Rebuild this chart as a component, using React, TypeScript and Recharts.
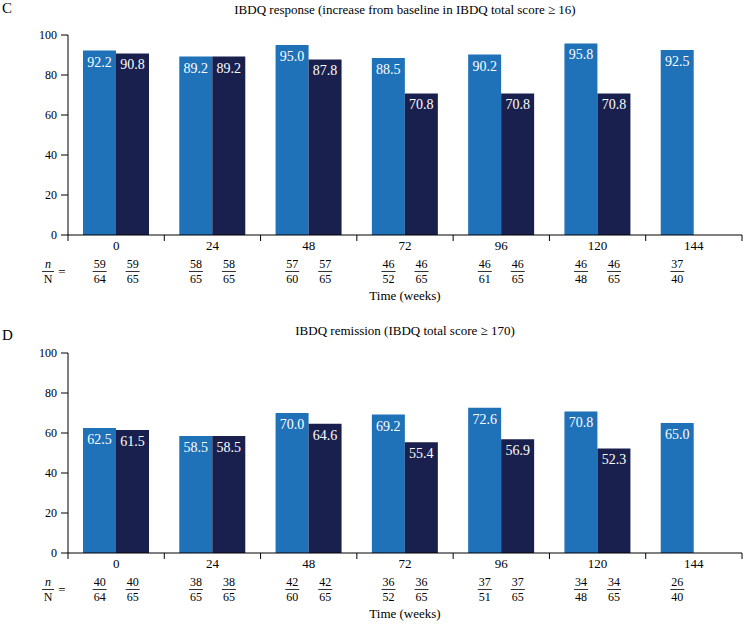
import React from 'react';
import { BarChart, Bar, XAxis, YAxis, LabelList } from 'recharts';

const weeks = ['0', '24', '48', '72', '96', '120', '144'];
const yTicks = [0, 20, 40, 60, 80, 100];

const responseA = [92.2, 89.2, 95.0, 88.5, 90.2, 95.8, 92.5];
const responseB = [90.8, 89.2, 87.8, 70.8, 70.8, 70.8, null];
const responseNumA = [59, 58, 57, 46, 46, 46, 37];
const responseDenA = [64, 65, 60, 52, 61, 48, 40];
const responseNumB = [59, 58, 57, 46, 46, 46, null];
const responseDenB = [65, 65, 65, 65, 65, 65, null];

const remissionA = [62.5, 58.5, 70.0, 69.2, 72.6, 70.8, 65.0];
const remissionB = [61.5, 58.5, 64.6, 55.4, 56.9, 52.3, null];
const remissionNumA = [40, 38, 42, 36, 37, 34, 26];
const remissionDenA = [64, 65, 60, 52, 51, 48, 40];
const remissionNumB = [40, 38, 42, 36, 37, 34, null];
const remissionDenB = [65, 65, 65, 65, 65, 65, null];

const LIGHT = '#1f71b8';
const DARK = '#1a204e';
const FONT = '"Liberation Serif", "DejaVu Serif", serif';
const BAR = 33;

type Row = {
  week: string;
  a: number;
  b: number | null;
  numA: number;
  denA: number;
  numB: number | null;
  denB: number | null;
};

function buildRows(
  a: number[],
  b: (number | null)[],
  numA: number[],
  denA: number[],
  numB: (number | null)[],
  denB: (number | null)[]
): Row[] {
  return weeks.map((w, i) => ({
    week: w,
    a: a[i],
    b: b[i],
    numA: numA[i],
    denA: denA[i],
    numB: numB[i],
    denB: denB[i],
  }));
}

const responseRows = buildRows(responseA, responseB, responseNumA, responseDenA, responseNumB, responseDenB);
const remissionRows = buildRows(remissionA, remissionB, remissionNumA, remissionDenA, remissionNumB, remissionDenB);

function Fraction({ cx, y, num, den }: { cx: number; y: number; num: number | null; den: number | null }) {
  if (num == null || den == null) return null;
  return (
    <g fontFamily={FONT} fontSize={12} fill="#000">
      <text x={cx} y={y + 33} textAnchor="middle">{num}</text>
      <line x1={cx - 7} x2={cx + 7} y1={y + 36.5} y2={y + 36.5} stroke="#000" strokeWidth={0.8} />
      <text x={cx} y={y + 47.5} textAnchor="middle">{den}</text>
    </g>
  );
}

function WeekTick(props: any) {
  const { x, y, payload, index, width, visibleTicksCount, rows } = props;
  const count = visibleTicksCount || rows.length;
  const bw = (width || 674) / count;
  const row: Row = rows[index];
  return (
    <g>
      <line x1={x - bw / 2} x2={x - bw / 2} y1={y} y2={y + 6} stroke="#000" strokeWidth={1} />
      {index === count - 1 && (
        <line x1={x + bw / 2} x2={x + bw / 2} y1={y} y2={y + 6} stroke="#000" strokeWidth={1} />
      )}
      <text x={x} y={y + 15} textAnchor="middle" fontFamily={FONT} fontSize={13} fill="#000">
        {payload.value}
      </text>
      <Fraction cx={x - BAR / 2} y={y} num={row.numA} den={row.denA} />
      <Fraction cx={x + BAR / 2} y={y} num={row.numB} den={row.denB} />
    </g>
  );
}

const fmt = (v: any) => (v == null ? '' : Number(v).toFixed(1));

function Panel({
  rows,
  height,
  top,
  bottom,
}: {
  rows: Row[];
  height: number;
  top: number;
  bottom: number;
}) {
  return (
    <BarChart
      width={743}
      height={height}
      data={rows}
      margin={{ top, right: 1, bottom: 0, left: 0 }}
      barGap={0}
      barSize={BAR}
    >
      <XAxis
        dataKey="week"
        axisLine={{ stroke: '#000', strokeWidth: 1 }}
        tickLine={false}
        tickSize={0}
        tickMargin={0}
        height={bottom}
        interval={0}
        tick={(p: any) => <WeekTick {...p} rows={rows} />}
      />
      <YAxis
        domain={[0, 100]}
        ticks={yTicks}
        width={68}
        axisLine={{ stroke: '#000', strokeWidth: 1 }}
        tickLine={{ stroke: '#000', strokeWidth: 1 }}
        tickSize={7}
        tickMargin={4}
        tick={{ fill: '#000', fontSize: 12, fontFamily: FONT }}
      />
      <Bar dataKey="a" fill={LIGHT} isAnimationActive={false}>
        <LabelList dataKey="a" position="insideTop" offset={6} fill="#fff" fontSize={14} fontFamily={FONT} formatter={fmt} />
      </Bar>
      <Bar dataKey="b" fill={DARK} isAnimationActive={false}>
        <LabelList dataKey="b" position="insideTop" offset={6} fill="#fff" fontSize={14} fontFamily={FONT} formatter={fmt} />
      </Bar>
    </BarChart>
  );
}

function Overlay({ letter, title, titleY, letterY, axisY }: { letter: string; title: string; titleY: number; letterY: number; axisY: number }) {
  return (
    <g fontFamily={FONT} fill="#000">
      <text x={2} y={letterY} fontSize={15}>{letter}</text>
      <text x={405} y={titleY} fontSize={13} textAnchor="middle">{title}</text>
      <text x={48} y={axisY + 33} fontSize={12} fontStyle="italic" textAnchor="middle">n</text>
      <line x1={42} x2={54} y1={axisY + 36.5} y2={axisY + 36.5} stroke="#000" strokeWidth={0.8} />
      <text x={48} y={axisY + 47.5} fontSize={12} textAnchor="middle">N</text>
      <text x={62} y={axisY + 40.5} fontSize={13} textAnchor="middle">=</text>
      <text x={405} y={axisY + 65} fontSize={13} textAnchor="middle">Time (weeks)</text>
    </g>
  );
}

export default function App() {
  return (
    <div style={{ position: 'absolute', left: 0, top: 0, width: 743, height: 624, background: '#fff' }}>
      <div style={{ position: 'absolute', left: 0, top: 0 }}>
        <Panel rows={responseRows} height={310} top={35} bottom={75} />
      </div>
      <div style={{ position: 'absolute', left: 0, top: 310 }}>
        <Panel rows={remissionRows} height={314} top={43} bottom={71} />
      </div>
      <svg width={743} height={624} style={{ position: 'absolute', left: 0, top: 0, pointerEvents: 'none' }}>
        <Overlay
          letter="C"
          title="IBDQ response (increase from baseline in IBDQ total score ≥ 16)"
          titleY={14}
          letterY={13}
          axisY={235}
        />
        <Overlay
          letter="D"
          title="IBDQ remission (IBDQ total score ≥ 170)"
          titleY={335}
          letterY={340}
          axisY={553}
        />
      </svg>
    </div>
  );
}
